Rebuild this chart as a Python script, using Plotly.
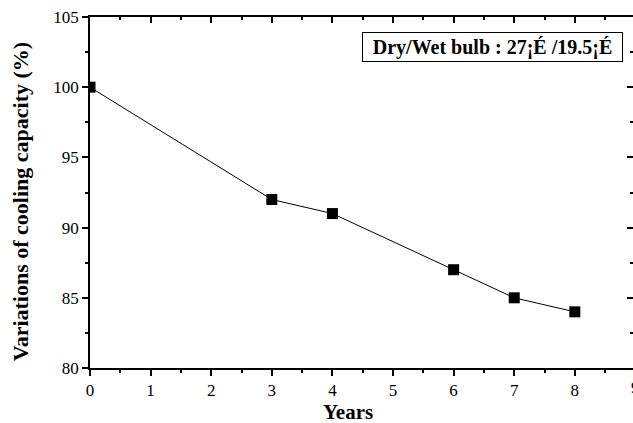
import plotly.graph_objects as go

years = [0, 3, 4, 6, 7, 8]
capacity = [100, 92, 91, 87, 85, 84]
x_ticks = [0, 1, 2, 3, 4, 5, 6, 7, 8, 9]
y_ticks = [80, 85, 90, 95, 100, 105]
legend_text = "Dry/Wet bulb : 27¡É /19.5¡É"
x_title = "Years"
y_title = "Variations of cooling capacity (%)"

FONT = "Liberation Serif"
X_MAX = 8.96

fig = go.Figure()
fig.add_trace(go.Scatter(
    x=years, y=capacity, mode="lines+markers",
    line=dict(color="black", width=1),
    marker=dict(symbol="square", size=11, color="black"),
    showlegend=False,
))
fig.add_trace(go.Scatter(x=[None], y=[None], xaxis="x2", yaxis="y2", showlegend=False))

common_font = dict(family=FONT, size=17, color="black")

annotations = [
    dict(text="<b>" + legend_text + "</b>", xref="paper", yref="paper",
         x=0.741, y=0.9145, xanchor="center", yanchor="middle", showarrow=False,
         font=dict(family=FONT, size=20, color="black"),
         bordercolor="black", borderwidth=1, width=257, height=26, borderpad=1,
         bgcolor="white"),
    dict(text="<b>" + y_title + "</b>", xref="paper", yref="paper",
         x=-0.129, y=0.475, xanchor="center", yanchor="middle", textangle=-90,
         showarrow=False, font=dict(family=FONT, size=22, color="black")),
    dict(text="<b>" + x_title + "</b>", xref="paper", yref="paper",
         x=0.475, y=-0.125, xanchor="center", yanchor="middle",
         showarrow=False, font=dict(family=FONT, size=21, color="black")),
]
# tick labels beyond the visible range (cut by the page edge)
for t in x_ticks:
    if t > X_MAX:
        annotations.append(dict(text=str(t), xref="paper", yref="paper", x=t / X_MAX, y=0,
                                yshift=-8, xanchor="center", yanchor="top",
                                showarrow=False, font=common_font))

fig.update_layout(
    width=633, height=423,
    margin=dict(l=90, r=0, t=17, b=55),
    paper_bgcolor="white", plot_bgcolor="white",
    xaxis=dict(
        range=[0, X_MAX], tickvals=x_ticks, ticks="outside", ticklen=6, tickwidth=1.5,
        tickcolor="black", showline=True, linecolor="black", linewidth=1.5,
        showgrid=False, zeroline=False, tickfont=common_font, automargin=False,
        minor=dict(ticks="outside", ticklen=3, tickwidth=1.5, dtick=0.5, tickcolor="black", showgrid=False),
    ),
    yaxis=dict(
        range=[80, 105], tickvals=y_ticks, ticks="outside", ticklen=6, tickwidth=1.5,
        tickcolor="black", showline=True, linecolor="black", linewidth=1.5,
        showgrid=False, zeroline=False, tickfont=common_font, automargin=False,
        minor=dict(ticks="outside", ticklen=3, tickwidth=1.5, dtick=2.5, tickcolor="black", showgrid=False),
    ),
    xaxis2=dict(
        range=[0, X_MAX], overlaying="x", side="top", anchor="y", tickvals=x_ticks,
        ticks="inside", ticklen=6, tickwidth=1.5, tickcolor="black",
        showline=True, linecolor="black", linewidth=1.5, showticklabels=False,
        showgrid=False, zeroline=False, automargin=False,
        minor=dict(ticks="inside", ticklen=3, tickwidth=1.5, dtick=0.5, tickcolor="black", showgrid=False),
    ),
    yaxis2=dict(
        range=[80, 105], overlaying="y", side="right", anchor="x", tickvals=y_ticks,
        ticks="inside", ticklen=6, tickwidth=1.5, tickcolor="black",
        showline=False, showticklabels=False,
        showgrid=False, zeroline=False, automargin=False,
        minor=dict(ticks="inside", ticklen=3, tickwidth=1.5, dtick=2.5, tickcolor="black", showgrid=False),
    ),
    annotations=annotations,
)

fig.write_html("out.html", config={"displayModeBar": False},
               post_script="document.body.style.margin='0';document.body.style.overflow='hidden';")
